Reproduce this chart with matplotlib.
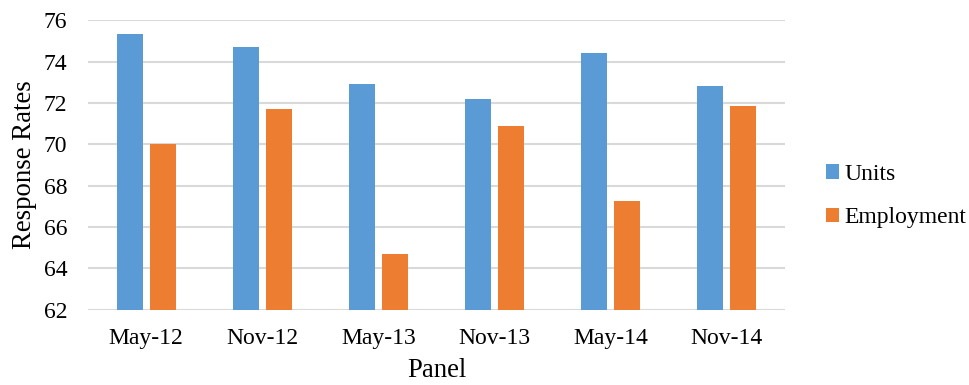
import matplotlib
matplotlib.use("Agg")
import matplotlib.pyplot as plt
import numpy as np

panels = ["May-12", "Nov-12", "May-13", "Nov-13", "May-14", "Nov-14"]
units = [75.36, 74.73, 72.91, 72.20, 74.41, 72.84]
employment = [70.04, 71.73, 64.69, 70.89, 67.25, 71.88]
yticks = [62, 64, 66, 68, 70, 72, 74, 76]

plt.rcParams["font.family"] = ["Liberation Serif", "DejaVu Serif"]

fig = plt.figure(figsize=(9.69, 3.85), dpi=100)
ax = fig.add_axes([0.0908, 0.1956, 0.7192, 0.7514])

x = np.arange(len(panels))
w = 0.224
gap = 0.06
ax.bar(x - (w + gap) / 2, units, width=w, bottom=0, color="#5B9BD5", label="Units", zorder=3)
ax.bar(x + (w + gap) / 2, employment, width=w, bottom=0, color="#ED7D31", label="Employment", zorder=3)

ax.set_xlim(-0.5, len(panels) - 0.5)
ax.set_ylim(62, 76)
ax.set_yticks(yticks)
ax.set_xticks(x)
ax.set_xticklabels(panels)
ax.tick_params(axis="both", length=0, labelsize=17, colors="#000000")
ax.tick_params(axis="x", pad=13)
ax.tick_params(axis="y", pad=15)
ax.grid(axis="y", color="#d9d9d9", linewidth=1.5, zorder=0)
for s in ax.spines.values():
    s.set_visible(False)

ax.set_ylabel("Response Rates", fontsize=19.3, labelpad=5)
ax.set_xlabel("Panel", fontsize=19.3, labelpad=7)

leg = fig.legend(loc="center left", bbox_to_anchor=(0.852, 1 - 196 / 385), frameon=False,
                 fontsize=17, handlelength=0.55, handleheight=0.55,
                 handletextpad=0.25, labelspacing=0.95, borderaxespad=0, borderpad=0)

fig.savefig("out.png", dpi=100)
